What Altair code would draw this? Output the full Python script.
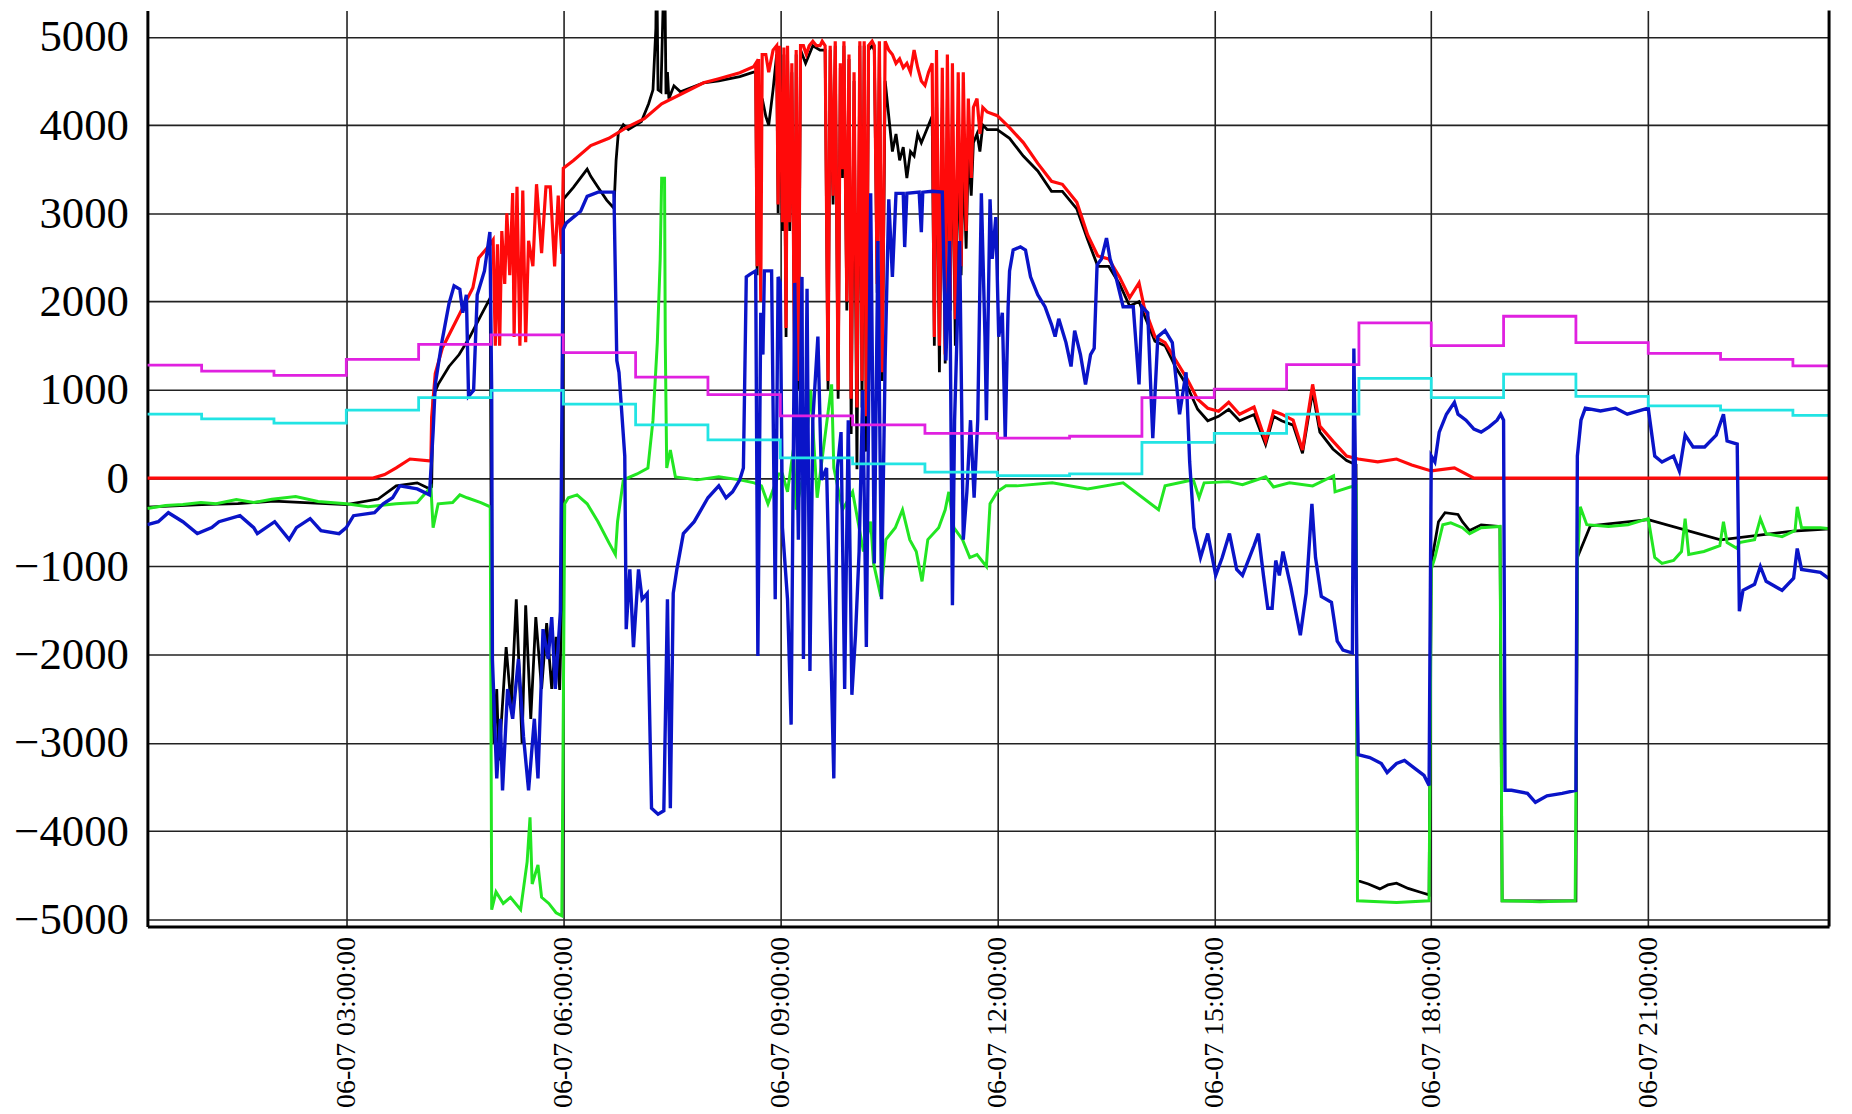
import altair as alt
import pandas as pd

# ---------------- data (hours of 2023-06-07, watts) ----------------
RED_H = [0.25, 3.37, 3.53, 3.69, 3.88, 4.15, 4.17, 4.18, 4.23, 4.33, 4.47, 4.61, 4.75, 4.83, 4.99,
         5.03, 5.06, 5.09, 5.12, 5.15, 5.19, 5.22, 5.26, 5.30, 5.32, 5.36, 5.40, 5.44, 5.48, 5.52, 5.58,
         5.63, 5.70, 5.76, 5.82, 5.88, 5.93, 5.98, 6.00,
         6.14, 6.38, 6.63, 6.87, 7.12, 7.36, 7.61, 7.94, 8.15, 8.44, 8.63,
         8.66, 8.68, 8.70, 8.73, 8.75, 8.80, 8.84, 8.90, 8.95, 8.97, 8.99, 9.03, 9.05, 9.08, 9.10, 9.13,
         9.16, 9.20, 9.22, 9.25, 9.28, 9.32, 9.36, 9.40, 9.45, 9.50, 9.55, 9.58, 9.62, 9.66, 9.69, 9.73,
         9.76, 9.80, 9.83, 9.86, 9.88, 9.92, 9.95, 9.98, 10.02, 10.06, 10.10, 10.13, 10.16, 10.19, 10.22,
         10.27, 10.30, 10.34, 10.37, 10.41, 10.45, 10.50, 10.55, 10.60, 10.65, 10.70, 10.75, 10.80, 10.85,
         10.90, 10.95, 11.00, 11.05, 11.10, 11.13, 11.16, 11.20, 11.24, 11.28, 11.31, 11.35, 11.38, 11.42,
         11.46, 11.50, 11.53, 11.57, 11.60, 11.64, 11.67, 11.72, 11.76, 11.80, 11.86, 12.00,
         12.17, 12.36, 12.56, 12.75, 12.90, 13.10, 13.25, 13.39, 13.54, 13.69, 13.83, 13.96, 14.03, 14.18,
         14.32, 14.47, 14.62, 14.77, 14.91, 15.06, 15.20, 15.35, 15.55, 15.71, 15.82, 15.93, 16.09, 16.22,
         16.36, 16.46, 16.64, 16.83, 16.99, 17.26, 17.52, 17.73, 18.00, 18.32, 18.59, 23.53]
RED_V = [0, 0, 40, 115, 216, 196, 203, 690, 1185, 1478, 1704, 1930, 2156, 2494, 2650,
         2700, 1500, 2650, 1500, 2800, 2200, 3000, 2300, 3230, 1600, 3300, 1500, 3260, 1540, 2690, 2400,
         3330, 2550, 3300, 3300, 2400, 3200, 2540, 3510,
         3600, 3768, 3850, 3971, 4073, 4242, 4344, 4479, 4526, 4594, 4661,
         4700, 2400, 4750, 2000, 4800, 4800, 4600, 4850, 4900, 3100, 4900, 2900, 4880, 1700, 4900, 2900,
         4700, 1150, 4850, 1100, 4900, 4900, 4800, 4900, 4950, 4900, 4900, 4950, 4900, 1100, 4900, 3200,
         4950, 1000, 4700, 3500, 4950, 2000, 4800, 900, 4600, 800, 4950, 1100, 4950, 700, 4900,
         4950, 4900, 2200, 4950, 1200, 4950, 4850, 4800, 4700, 4750, 4650, 4700, 4600, 4850,
         4650, 4500, 4450, 4600, 4700, 1600, 4850, 1500, 4650, 1400, 4800, 2000, 4700, 1800,
         4600, 2400, 4600, 2800, 4300, 3400, 4200, 4300, 3900, 4200, 4150, 4107,
         3971, 3802, 3566, 3363, 3329, 3126, 2754, 2517, 2483, 2280, 2043, 2212, 1942, 1603,
         1536, 1333, 1130, 893, 792, 758, 859, 724, 805, 419, 758, 724, 656, 318,
         1062, 589, 419, 250, 216, 183, 216, 149, 81, 115, 0, 0]

BLACK_H = [0.25, 1.0, 1.5, 2.0, 2.5, 3.0, 3.44, 3.69, 3.98, 4.15, 4.18, 4.20, 4.27, 4.42, 4.56, 4.71,
           4.86, 4.99, 5.01, 5.04, 5.08, 5.11, 5.21, 5.28, 5.35, 5.43, 5.48, 5.55, 5.62, 5.70, 5.77, 5.84,
           5.90, 5.95, 5.98, 6.00, 6.14, 6.33, 6.38, 6.48, 6.60, 6.70, 6.73, 6.76, 6.83, 6.90, 7.08, 7.18,
           7.24, 7.28, 7.29, 7.31, 7.35, 7.40, 7.42, 7.44, 7.46, 7.53, 7.62, 7.94, 8.15, 8.44, 8.63,
           8.66, 8.68, 8.70, 8.73, 8.75, 8.80, 8.84, 8.90, 8.95, 8.97, 8.99, 9.03, 9.05, 9.08, 9.10, 9.13,
           9.16, 9.20, 9.22, 9.25, 9.28, 9.35, 9.45, 9.55, 9.62, 9.66, 9.69, 9.73, 9.76, 9.80, 9.83, 9.86,
           9.88, 9.92, 9.95, 9.98, 10.02, 10.06, 10.10, 10.13, 10.16, 10.19, 10.22, 10.27, 10.30, 10.34,
           10.37, 10.41, 10.45, 10.50, 10.55, 10.60, 10.65, 10.70, 10.75, 10.80, 10.85, 10.90, 10.95, 11.00,
           11.05, 11.10, 11.13, 11.16, 11.20, 11.24, 11.28, 11.31, 11.35, 11.38, 11.42, 11.46, 11.50, 11.53,
           11.57, 11.60, 11.64, 11.67, 11.72, 11.76, 11.80, 11.86, 12.00,
           12.17, 12.36, 12.56, 12.75, 12.90, 13.10, 13.25, 13.39, 13.54, 13.69, 13.83, 13.96, 14.03, 14.18,
           14.32, 14.47, 14.62, 14.77, 14.91, 15.06, 15.20, 15.35, 15.55, 15.71, 15.82, 15.93, 16.09, 16.22,
           16.36, 16.46, 16.64, 16.83, 16.96, 16.98, 17.13, 17.29, 17.40, 17.52, 17.68, 17.84, 17.97, 18.00,
           18.10, 18.19, 18.37, 18.43, 18.53, 18.69, 18.95, 18.98, 19.50, 20.00, 20.02, 20.20, 21.00, 22.00,
           23.00, 23.53]
BLACK_V = [-330, -300, -290, -260, -280, -300, -237, -88, -54, -122, -100, 927, 1062, 1265, 1400, 1603,
           1840, 2043, -2050, -3000, -2390, -3200, -1915, -2593, -1373, -3000, -1441, -2728, -1576, -2390, -1644, -2390,
           -1800, -2400, -1373, 3160, 3295, 3500, 3420, 3295, 3150, 3058, 3600, 3904, 4005, 3950, 4040, 4242,
           4400, 5100, 6000, 4400, 4377, 6000, 4350, 4600, 4300, 4445, 4377, 4479, 4500, 4550, 4600,
           4600, 2300, 4200, 4000, 4300, 4100, 4000, 4400, 4800, 3000, 4850, 2800, 4800, 1600, 4850, 2800,
           4600, 1100, 4800, 1000, 4850, 4700, 4900, 4850, 4850, 1000, 4850, 3100, 4900, 900, 4650, 3400,
           4900, 1900, 4750, 500, 4500, 100, 4900, 800, 4900, 300, 4850, 4900, 4850, 2100,
           4900, 1100, 4500, 4100, 3700, 3900, 3600, 3750, 3400, 3700, 3650, 3900, 3800, 3900,
           4000, 4100, 1500, 4400, 1200, 4200, 1300, 4300, 1900, 4200, 1500, 3800, 2300, 3600,
           2600, 3700, 3200, 3800, 3900, 3700, 4000, 3950, 3950,
           3850, 3650, 3480, 3250, 3250, 3050, 2700, 2400, 2400, 2200, 1950, 2000, 1850, 1550,
           1500, 1250, 1050, 780, 650, 700, 780, 650, 720, 380, 700, 650, 600, 280,
           980, 520, 330, 200, 150, -4560, -4600, -4655, -4610, -4590, -4650, -4690, -4722, -967,
           -494, -392, -412, -494, -595, -530, -548, -4790, -4790, -4790, -900, -540, -470, -700,
           -600, -575]

GREEN_H = [0.25, 0.50, 0.74, 0.99, 1.20, 1.48, 1.72, 1.97, 2.30, 2.61, 3.00, 3.30, 3.69, 3.98, 4.17,
           4.20, 4.27, 4.47, 4.57, 4.67, 4.86, 4.99, 5.01, 5.07, 5.17, 5.27, 5.41, 5.50, 5.54, 5.57, 5.65,
           5.70, 5.80, 5.90, 5.98, 6.02, 6.07, 6.19, 6.33, 6.48, 6.63, 6.72, 6.75, 6.83, 7.02, 7.17, 7.24,
           7.30, 7.34, 7.36, 7.40, 7.41, 7.43, 7.48, 7.55, 7.85, 8.15, 8.44, 8.64, 8.74, 8.83, 8.98, 9.03,
           9.10, 9.18, 9.22, 9.32, 9.42, 9.51, 9.71, 9.74, 9.86, 10.00, 10.15, 10.25, 10.29, 10.39, 10.46,
           10.59, 10.69, 10.79, 10.88, 10.96, 11.04, 11.19, 11.28, 11.33, 11.40, 11.52, 11.62, 11.72, 11.85,
           11.90, 12.00, 12.12, 12.27, 12.76, 13.25, 13.74, 14.23, 14.32, 14.71, 14.79, 14.86, 15.20, 15.39,
           15.55, 15.71, 15.82, 16.04, 16.36, 16.65, 16.67, 16.88, 16.96, 16.98, 17.52, 17.97, 18.00, 18.05,
           18.16, 18.27, 18.43, 18.53, 18.69, 18.95, 18.98, 19.50, 19.99, 20.02, 20.06, 20.15, 20.45, 20.72,
           21.00, 21.09, 21.19, 21.35, 21.46, 21.51, 21.56, 21.77, 21.99, 22.04, 22.09, 22.23, 22.26, 22.47,
           22.55, 22.63, 22.85, 23.03, 23.06, 23.12, 23.38, 23.53]
GREEN_V = [-345, -310, -300, -277, -290, -244, -277, -240, -210, -265, -291, -325, -291, -277, -101,
           -562, -291, -277, -190, -223, -277, -325, -4890, -4689, -4820, -4750, -4890, -4350, -3843, -4600, -4384,
           -4750, -4820, -4925, -4960, -291, -223, -190, -291, -494, -731, -866, -494, -20, 47, 115, 656,
           1536, 2483, 3397, 3397, 1536, 115, 318, 14, -20, 14, -20, -54, -88, -291, 47, 47,
           -156, 318, -359, 47, 995, -223, 1062, 115, -359, -156, -832, -494, -967, -1340, -697,
           -562, -359, -697, -832, -1170, -697, -562, -359, -156, -562, -697, -900, -866, -1001,
           -291, -156, -88, -88, -54, -122, -54, -359, -88, -20, -223, -54, -40, -74,
           -30, 14, -101, -54, -88, 27, -156, -101, -88, -4790, -4810, -4790, -1035, -900,
           -528, -507, -562, -629, -562, -548, -4790, -4800, -4790, -967, -325, -528, -548, -528,
           -460, -900, -967, -934, -832, -460, -866, -832, -765, -494, -731, -798, -731, -697,
           -460, -629, -663, -595, -325, -562, -562, -575]

BLUE_H = [0.25, 0.40, 0.54, 0.74, 0.94, 1.14, 1.24, 1.53, 1.72, 1.77, 2.01, 2.21, 2.31, 2.50, 2.65, 2.90,
          3.00, 3.10, 3.39, 3.51, 3.64, 3.74, 3.98, 4.15, 4.20, 4.23, 4.32, 4.42, 4.49, 4.57, 4.61, 4.66,
          4.69, 4.76, 4.81, 4.91, 4.985, 5.01, 5.02, 5.08, 5.13, 5.16, 5.23, 5.30, 5.38, 5.45, 5.52, 5.60,
          5.65, 5.72, 5.79, 5.84, 5.89, 5.96, 6.00, 6.04, 6.14, 6.24, 6.33, 6.48, 6.70, 6.74, 6.77, 6.85,
          6.87, 6.92, 6.97, 7.04, 7.09, 7.16, 7.22, 7.31, 7.39, 7.44, 7.48, 7.52, 7.57, 7.66, 7.81, 8.00,
          8.15, 8.25, 8.34, 8.44, 8.49, 8.53, 8.59, 8.66, 8.69, 8.73, 8.76, 8.78, 8.88, 8.93, 8.97, 9.00,
          9.03, 9.10, 9.15, 9.20, 9.25, 9.30, 9.32, 9.37, 9.41, 9.45, 9.52, 9.57, 9.64, 9.74, 9.79, 9.84,
          9.89, 9.94, 9.99, 10.04, 10.09, 10.14, 10.19, 10.25, 10.30, 10.35, 10.40, 10.45, 10.50, 10.55,
          10.60, 10.70, 10.72, 10.75, 10.92, 10.95, 10.97, 11.10, 11.24, 11.29, 11.34, 11.38, 11.41, 11.48,
          11.53, 11.58, 11.63, 11.68, 11.73, 11.78, 11.83, 11.85, 11.90, 11.93, 11.98, 12.02, 12.07, 12.11,
          12.15, 12.17, 12.22, 12.32, 12.39, 12.46, 12.56, 12.66, 12.75, 12.80, 12.85, 12.95, 13.02, 13.07,
          13.15, 13.22, 13.29, 13.34, 13.38, 13.44, 13.51, 13.56, 13.64, 13.74, 13.88, 13.96, 14.00, 14.08,
          14.15, 14.22, 14.32, 14.42, 14.52, 14.61, 14.66, 14.72, 14.81, 14.91, 15.02, 15.11, 15.21, 15.31,
          15.39, 15.55, 15.61, 15.68, 15.74, 15.80, 15.85, 15.90, 15.95, 16.06, 16.19, 16.27, 16.35, 16.40,
          16.48, 16.62, 16.70, 16.78, 16.91, 16.93, 16.95, 16.97, 16.99, 17.15, 17.31, 17.39, 17.52, 17.63,
          17.79, 17.90, 17.97, 18.00, 18.05, 18.11, 18.21, 18.32, 18.37, 18.48, 18.59, 18.69, 18.80, 18.91,
          18.96, 19.00, 19.02, 19.11, 19.33, 19.44, 19.60, 19.81, 20.00, 20.02, 20.07, 20.13, 20.34, 20.55,
          20.71, 21.00, 21.09, 21.19, 21.35, 21.43, 21.51, 21.62, 21.78, 21.94, 22.04, 22.09, 22.23, 22.26,
          22.31, 22.47, 22.55, 22.63, 22.85, 23.01, 23.06, 23.12, 23.38, 23.53]
BLUE_V = [-528, -494, -392, -494, -629, -561, -494, -426, -561, -629, -494, -697, -561, -460, -595, -629,
          -561, -426, -392, -291, -223, -88, -122, -190, 521, 1062, 1536, 1976, 2178, 2140, 1874, 2077,
          927, 995, 2077, 2348, 2788, 995, -2050, -3403, -2727, -3539, -2390, -2727, -2050, -2930, -3539, -2727,
          -3403, -1712, -2050, -1576, -2390, -1509, 2821, 2889, 2957, 3024, 3193, 3240, 3240, 1333, 1198, 250,
          -1712, -1035, -1915, -1035, -1373, -1306, -3742, -3809, -3770, -1373, -3742, -1306, -1035, -629, -494, -223,
          -88, -223, -156, -20, 115, 2280, 2314, 2348, -2016, 1874, 1400, 2348, 2348, -1373, 2280, 2212,
          -561, -1373, -2794, 2212, -697, 2280, -2050, 2145, -2185, 656, 1603, -20, 115, -3403, 115, 521,
          -2390, 656, -2456, -1780, -832, 995, -1915, 3227, -967, 2686, -1373, 1333, 3160, 2280,
          3227, 3227, 2618, 3227, 3240, 2787, 3240, 3250, 3240, 1333, 2686, -1441, 656, 2686,
          -697, -156, 656, -223, 656, 3227, 1603, 656, 3160, 2483, 2957, 1603, 1874, 453,
          1942, 2348, 2585, 2620, 2585, 2280, 2077, 1942, 1739, 1603, 1806, 1536, 1265, 1671,
          1400, 1062, 1400, 1470, 2415, 2483, 2720, 2483, 2280, 1942, 1942, 1062, 1942, 1874,
          453, 1603, 1671, 1536, 724, 1198, 183, -562, -900, -629, -1103, -900, -629, -1035,
          -1103, -765, -629, -1103, -1475, -1475, -934, -1103, -832, -1238, -1780, -1306, -291, -900,
          -1340, -1407, -1847, -1949, -1982, 1468, 200, -2050, -3133, -3166, -3234, -3336, -3234, -3200,
          -3300, -3369, -3484, 250, 183, 521, 724, 859, 724, 656, 555, 521, 580, 656,
          724, 656, -3538, -3538, -3572, -3674, -3600, -3572, -3538, 250, 656, 792, 760, 792,
          724, 792, 250, 183, 250, 81, 487, 352, 352, 487, 724, 420, 386, -1509,
          -1272, -1203, -1001, -1169, -1272, -1135, -798, -1035, -1069, -1157]

STEP_H = [0.25, 1, 2, 3, 4, 5, 6, 7, 8, 9, 10, 11, 12, 13, 14, 15, 16, 17, 18, 19, 20, 21, 22, 23, 23.53]
MAGENTA_V = [1280, 1211, 1164, 1346, 1515, 1624, 1421, 1143, 947, 704, 602, 507, 453, 474, 913, 1008,
             1285, 1759, 1502, 1834, 1536, 1414, 1346, 1272, 1272]
CYAN_V = [724, 670, 622, 771, 913, 995, 839, 602, 433, 230, 162, 68, 27, 47, 406, 507,
          724, 1130, 913, 1177, 927, 819, 771, 710, 710]

TICK_HOURS = [3, 6, 9, 12, 15, 18, 21]
Y_TICKS = [-5000, -4000, -3000, -2000, -1000, 0, 1000, 2000, 3000, 4000, 5000]

BASE = pd.Timestamp("2023-06-07")


def frame(hours, values):
    t = BASE + pd.to_timedelta(pd.Series(hours, dtype=float), unit="h")
    return pd.DataFrame({"t": t.dt.strftime("%Y-%m-%dT%H:%M:%S"), "v": values})


W, H = 1689, 920
FONT = "Liberation Serif"

x_enc = alt.X(
    "t:T",
    scale=alt.Scale(domain=[alt.DateTime(year=2023, month=6, date=7, hours=0, minutes=15),
                            alt.DateTime(year=2023, month=6, date=7, hours=23, minutes=30)],
                    nice=False),
    axis=alt.Axis(
        values=[alt.DateTime(year=2023, month=6, date=7, hours=h) for h in TICK_HOURS],
        format="%m-%d %H:%M:%S", labelAngle=270, labelFont=FONT, labelFontSize=28,
        labelColor="black", labelPadding=10, labelLimit=400, ticks=False, tickSize=0,
        domainColor="black", domainWidth=3, gridColor="#222222", gridWidth=1.6,
        title=None, labelFlush=False, labelOverlap=False),
)
y_enc = alt.Y(
    "v:Q",
    scale=alt.Scale(domain=[-5080, 5300], nice=False, zero=False),
    axis=alt.Axis(values=Y_TICKS, format="d", labelFont=FONT, labelFontSize=45,
                  labelColor="black", labelPadding=19, labelLimit=300, ticks=False, tickSize=0,
                  domainColor="black", domainWidth=3, gridColor="#222222", gridWidth=1.6,
                  title=None, labelFlush=False, labelOverlap=False),
)


def line(df, color, width, interp="linear"):
    return alt.Chart(df).mark_line(color=color, strokeWidth=width, clip=True,
                                   interpolate=interp, strokeJoin="miter").encode(x=x_enc, y=y_enc)


black = line(frame(BLACK_H, BLACK_V), "#000000", 2.8)
green = line(frame(GREEN_H, GREEN_V), "#22e622", 3.0)
red = line(frame(RED_H, RED_V), "#ff0a0a", 3.2)
blue = line(frame(BLUE_H, BLUE_V), "#0a14c8", 3.4)
cyan = line(frame(STEP_H, CYAN_V), "#22e4e4", 2.8, "step-after")
magenta = line(frame(STEP_H, MAGENTA_V), "#e021e0", 2.8, "step-after")

right_border = alt.Chart(pd.DataFrame({"k": [0]})).mark_rule(color="black", strokeWidth=3).encode(
    x=alt.value(W), y=alt.value(0), y2=alt.value(H))

chart = alt.layer(black, green, red, blue, cyan, magenta, right_border).properties(
    width=W, height=H,
    autosize=alt.AutoSizeParams(type="none"),
    padding={"left": 140, "top": 0, "right": 15, "bottom": 180},
    background="white",
).configure_view(stroke=None)

chart.save("out.html", embed_options={"renderer": "svg", "actions": False})
